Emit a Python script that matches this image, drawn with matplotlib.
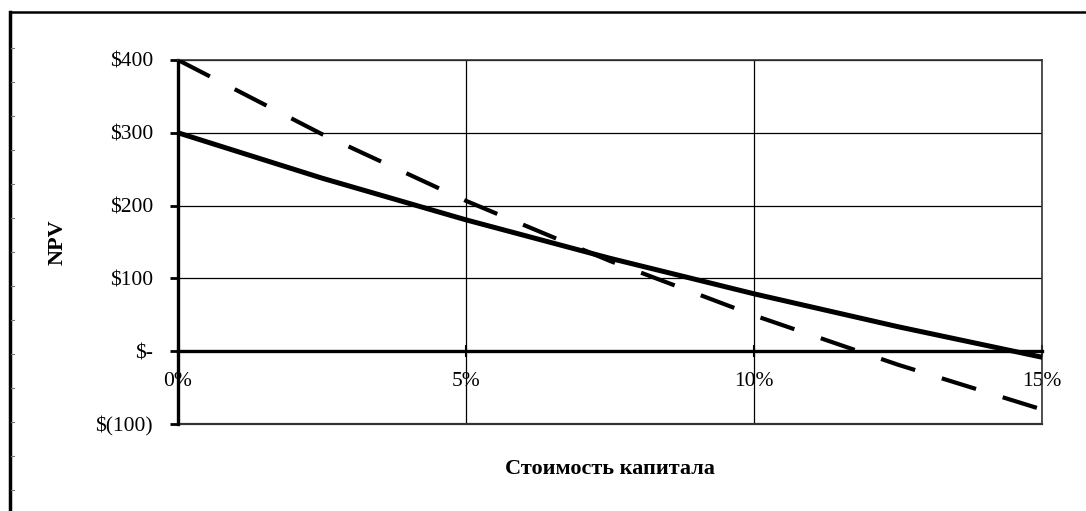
import matplotlib.pyplot as plt
from matplotlib.lines import Line2D

# ставка (%) и NPV двух проектов
rates = [0, 2.5, 5, 7.5, 10, 12.5, 15]
npv_s = [300, 237.7, 180.4, 127.6, 78.8, 33.6, -8.3]
npv_l = [400, 298.1, 206.5, 123.9, 49.2, -18.6, -80.1]

y_ticks = [-100, 0, 100, 200, 300, 400]
y_labels = ['$(100)', '$-', '$100', '$200', '$300', '$400']
x_ticks = [0, 5, 10, 15]
x_labels = ['0%', '5%', '10%', '15%']

plt.rcParams['font.family'] = ['Liberation Serif', 'DejaVu Serif']

fig = plt.figure(figsize=(10.86, 5.11), dpi=100)
ax = fig.add_axes([0.1639, 0.1703, 0.7956, 0.7123])

ax.plot(rates, npv_s, color='black', lw=3.6, solid_joinstyle='round', zorder=3)
ax.plot(rates, npv_l, color='black', lw=3.0, dashes=(8.6, 6.7), zorder=3)

ax.set_xlim(0, 15)
ax.set_ylim(-100, 400)
ax.set_yticks(y_ticks)
ax.set_yticklabels(y_labels)
ax.set_xticks(x_ticks)
ax.set_xticklabels(x_labels)
ax.grid(True, color='black', lw=0.9)
ax.set_axisbelow(True)

# рамка области построения: верх и право тонкие, низ по -100
for s in ['top', 'right']:
    ax.spines[s].set_linewidth(1.2)
    ax.spines[s].set_color('#333333')
ax.axhline(-100, color='#333333', lw=1.6, clip_on=False, zorder=2)
ax.spines['left'].set_linewidth(2.4)
ax.spines['bottom'].set_position(('data', 0))
ax.spines['bottom'].set_linewidth(2.4)
ax.spines['bottom'].set_zorder(2.5)

ax.tick_params(axis='y', length=6, width=2, pad=12, labelsize=15.5)
ax.tick_params(axis='x', direction='inout', length=8, width=1.5, pad=11, labelsize=15.5)

ax.set_ylabel('NPV', fontsize=16, fontweight='bold')
ax.set_xlabel('Стоимость капитала', fontsize=16, fontweight='bold')
ax.xaxis.set_label_coords(0.5, -0.095)
ax.yaxis.set_label_coords(-0.128, 0.5)

# рамка слева и сверху
fx = 10 / 1086
fy = 1 - 12 / 511
fig.add_artist(Line2D([fx, fx], [0, fy], color='black', lw=2.5))
fig.add_artist(Line2D([fx, 1], [fy, fy], color='black', lw=1.8))
for k in range(14):
    yy = 1 - (48 + 34 * k) / 511
    fig.add_artist(Line2D([fx + 1 / 1086, fx + 4 / 1086], [yy, yy], color='#777777', lw=0.8))

fig.savefig('out.png', dpi=100)
